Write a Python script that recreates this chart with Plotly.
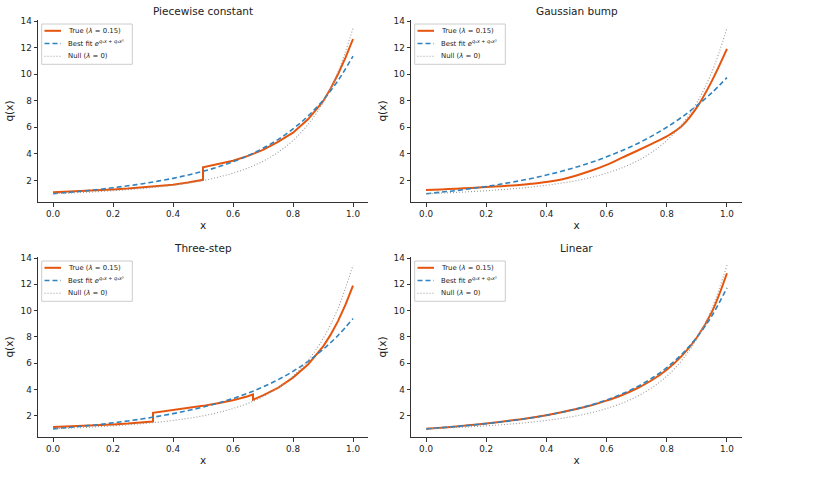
import plotly.graph_objects as go

# ---------------- data ----------------
X = [0.0, 0.05, 0.1, 0.15, 0.2, 0.25, 0.3, 0.35, 0.4, 0.45, 0.5,
     0.55, 0.6, 0.65, 0.7, 0.75, 0.8, 0.85, 0.9, 0.95, 1.0]

NULL_Q = [1.00, 1.05, 1.10, 1.16, 1.23, 1.31, 1.40, 1.51, 1.64, 1.80, 1.99,
          2.24, 2.55, 2.94, 3.45, 4.12, 5.01, 6.21, 7.86, 10.17, 13.46]

# Piecewise constant
PW_X = [0.0, 0.05, 0.1, 0.15, 0.2, 0.25, 0.3, 0.35, 0.4, 0.45, 0.5,
        0.5, 0.55, 0.6, 0.65, 0.7, 0.75, 0.8, 0.85, 0.9, 0.925, 0.95, 0.975, 1.0]
PW_TRUE = [1.12, 1.16, 1.21, 1.26, 1.32, 1.39, 1.47, 1.57, 1.68, 1.84, 2.05,
           3.00, 3.22, 3.48, 3.85, 4.30, 4.90, 5.60, 6.60, 7.95, 8.90, 10.00, 11.25, 12.65]
PW_FIT = [1.00, 1.10, 1.20, 1.32, 1.45, 1.60, 1.76, 1.95, 2.16, 2.41, 2.69,
          3.02, 3.41, 3.87, 4.42, 5.08, 5.88, 6.85, 8.04, 9.52, 11.36]

# Gaussian bump
GB_TRUE = [1.28, 1.33, 1.38, 1.44, 1.50, 1.57, 1.65, 1.75, 1.88, 2.08, 2.38,
           2.75, 3.18, 3.70, 4.22, 4.76, 5.32, 6.10, 7.50, 9.50, 11.90]
GB_FIT = [1.00, 1.12, 1.24, 1.39, 1.55, 1.73, 1.93, 2.15, 2.41, 2.69, 3.01,
          3.37, 3.78, 4.24, 4.75, 5.34, 6.01, 6.77, 7.63, 8.61, 9.74]

# Three-step
TS_X = [0.0, 0.05, 0.1, 0.15, 0.2, 0.25, 0.3, 0.3333,
        0.3333, 0.35, 0.4, 0.45, 0.5, 0.55, 0.6, 0.65, 0.6667,
        0.6667, 0.7, 0.75, 0.8, 0.85, 0.9, 0.925, 0.95, 0.975, 1.0]
TS_TRUE = [1.14, 1.18, 1.22, 1.27, 1.33, 1.40, 1.49, 1.56,
           2.22, 2.27, 2.42, 2.57, 2.75, 2.95, 3.17, 3.48, 3.62,
           3.22, 3.55, 4.12, 4.90, 5.90, 7.25, 8.15, 9.20, 10.45, 11.90]
TS_FIT = [1.00, 1.10, 1.21, 1.32, 1.46, 1.60, 1.77, 1.95, 2.16, 2.39, 2.66,
          2.96, 3.31, 3.72, 4.19, 4.74, 5.38, 6.14, 7.04, 8.11, 9.39]

# Linear
LN_TRUE = [1.00, 1.09, 1.18, 1.29, 1.41, 1.54, 1.69, 1.85, 2.04, 2.26, 2.51,
           2.80, 3.15, 3.56, 4.07, 4.70, 5.50, 6.55, 7.95, 9.90, 12.84]
LN_FIT = [1.00, 1.09, 1.18, 1.28, 1.40, 1.53, 1.67, 1.84, 2.03, 2.26, 2.52,
          2.83, 3.20, 3.65, 4.18, 4.85, 5.66, 6.68, 7.97, 9.61, 11.73]

TITLES = ["Piecewise constant", "Gaussian bump", "Three-step", "Linear"]
X_TICKS = [0.0, 0.2, 0.4, 0.6, 0.8, 1.0]
X_TICKTEXT = ["0.0", "0.2", "0.4", "0.6", "0.8", "1.0"]
Y_TICKS = [2, 4, 6, 8, 10, 12, 14]

LBL_TRUE = "True (<i>λ</i> = 0.15)"
LBL_FIT = "Best fit <i>e</i><sup><i>q</i>₁<i>x</i> + <i>q</i>₃<i>x</i>³</sup>"
LBL_NULL = "Null (<i>λ</i> = 0)"

# ---------------- styling ----------------
W, H = 835, 497
FONT = "DejaVu Sans"
ORANGE = "#e6550d"
BLUE = "#3182bd"
GREY = "#9a9a9a"

panels = [
    dict(true_x=PW_X, true_y=PW_TRUE, true_shape="linear", fit=PW_FIT),
    dict(true_x=X, true_y=GB_TRUE, true_shape="spline", fit=GB_FIT),
    dict(true_x=TS_X, true_y=TS_TRUE, true_shape="linear", fit=TS_FIT),
    dict(true_x=X, true_y=LN_TRUE, true_shape="spline", fit=LN_FIT),
]

# pixel boxes of the axes: (left, right, top, bottom)
boxes = [(38, 368, 20, 202), (411, 742, 20, 202),
         (38, 368, 257, 437), (411, 742, 257, 437)]

line_styles = [dict(color=ORANGE, width=2),
               dict(color=BLUE, width=1.6, dash="5px,3px"),
               dict(color=GREY, width=1.1, dash="1px,2px")]
labels = [LBL_TRUE, LBL_FIT, LBL_NULL]

fig = go.Figure()
layout = dict(width=W, height=H, margin=dict(l=0, r=0, t=0, b=0),
              paper_bgcolor="white", plot_bgcolor="white",
              font=dict(family=FONT, color="#222222"), showlegend=False)
annotations = []
shapes = []


def px(xp):
    return xp / W


def py(yp):
    return 1 - yp / H


for i, (p, box) in enumerate(zip(panels, boxes)):
    n = "" if i == 0 else str(i + 1)
    xa, ya = "x" + n, "y" + n
    fig.add_trace(go.Scatter(x=p["true_x"], y=p["true_y"], mode="lines", name=LBL_TRUE,
                             line=dict(line_styles[0], shape=p["true_shape"]),
                             xaxis=xa, yaxis=ya))
    fig.add_trace(go.Scatter(x=X, y=p["fit"], mode="lines", name=LBL_FIT,
                             line=dict(line_styles[1], shape="spline"),
                             xaxis=xa, yaxis=ya))
    fig.add_trace(go.Scatter(x=X, y=NULL_Q, mode="lines", name=LBL_NULL,
                             line=dict(line_styles[2], shape="spline"),
                             xaxis=xa, yaxis=ya))
    l, r, t, b = box
    axis_common = dict(showgrid=False, zeroline=False, showline=True, linecolor="#333333",
                       linewidth=1, ticks="outside", ticklen=3.5, tickwidth=1,
                       tickcolor="#333333", tickfont=dict(size=8.8, family=FONT, color="#222222"),
                       automargin=False)
    layout["xaxis" + n] = dict(axis_common, domain=[l / W, r / W], range=[-0.05, 1.05],
                               tickvals=X_TICKS, ticktext=X_TICKTEXT, anchor=ya,
                               title=dict(text="x", font=dict(size=10.5, family=FONT), standoff=3))
    layout["yaxis" + n] = dict(axis_common, domain=[1 - b / H, 1 - t / H], range=[0.38, 14.08],
                               tickvals=Y_TICKS, anchor=xa,
                               title=dict(text="q(x)", font=dict(size=10.5, family=FONT), standoff=4))
    annotations.append(dict(text=TITLES[i], x=px((l + r) / 2), y=py(t - 9),
                            xref="paper", yref="paper", showarrow=False,
                            font=dict(size=10.5, family=FONT, color="#222222"),
                            xanchor="center", yanchor="middle"))

    # legend box (matplotlib-style, drawn by hand)
    lx0, lx1 = l + 3.7, l + 94.3
    ly0, ly1 = t + 4, t + 44.3
    shapes.append(dict(type="rect", xref="paper", yref="paper",
                       x0=px(lx0), x1=px(lx1), y0=py(ly0), y1=py(ly1),
                       line=dict(color="#cccccc", width=1),
                       fillcolor="rgba(255,255,255,0.85)", layer="above"))
    for k in range(3):
        yy = t + 10.8 + k * 12.7
        shapes.append(dict(type="line", xref="paper", yref="paper",
                           x0=px(l + 6.5), x1=px(l + 23), y0=py(yy), y1=py(yy),
                           line=line_styles[k], layer="above"))
        annotations.append(dict(text=labels[k], x=px(l + 27.5), y=py(yy),
                                xref="paper", yref="paper", showarrow=False,
                                xanchor="left", yanchor="middle",
                                font=dict(size=6.9, family=FONT, color="#222222")))

layout["annotations"] = annotations
layout["shapes"] = shapes
fig.update_layout(**layout)
fig.write_html("out.html")
